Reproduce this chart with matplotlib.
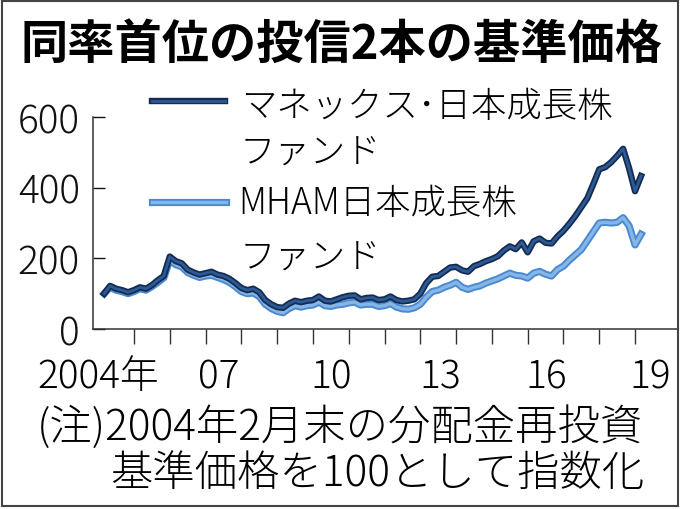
import matplotlib
matplotlib.use('Agg')
import matplotlib.pyplot as plt
import matplotlib.patheffects as pe
from matplotlib.lines import Line2D
from matplotlib.patches import Rectangle
import numpy as np

plt.rcParams['font.family'] = ['Noto Sans CJK JP', 'DejaVu Sans']
plt.rcParams['font.weight'] = 'light'

# 基準価格 (2004年2月末=100), 2か月ごと
monex = [100, 122, 114, 110, 104, 110, 118, 114, 124, 138,
         150, 205, 192, 186, 168, 160, 154, 158, 162, 154,
         150, 142, 130, 116, 110, 114, 104, 82, 70, 62,
         60, 72, 80, 76, 80, 82, 92, 80, 78, 84,
         90, 94, 95, 84, 88, 89, 82, 84, 92, 82,
         78, 80, 84, 100, 130, 148, 150, 162, 174, 176,
         166, 162, 178, 184, 192, 198, 206, 222, 234, 226,
         245, 217, 248, 256, 244, 242, 262, 278, 298, 320,
         345, 370, 410, 452, 458, 472, 490, 510, 455, 390,
         433]
mham = [100, 118, 110, 106, 100, 106, 114, 110, 120, 132,
        145, 195, 182, 176, 160, 152, 146, 150, 152, 146,
        140, 132, 120, 106, 100, 102, 92, 70, 58, 50,
        46, 58, 66, 62, 66, 68, 76, 66, 64, 68,
        70, 74, 76, 68, 70, 70, 64, 66, 72, 62,
        57, 56, 60, 70, 90, 106, 110, 118, 124, 132,
        118, 112, 118, 122, 130, 136, 142, 150, 158, 152,
        150, 144, 158, 163, 155, 150, 168, 178, 195, 210,
        225, 250, 275, 300, 302, 300, 302, 315, 292, 238,
        268]
t = 2004 + 2 / 12 + np.arange(len(monex)) / 6

names = ['マネックス･日本成長株', 'MHAM日本成長株']
year_ticks = list(range(2005, 2020))
year_labels = ['2004年', '07', '10', '13', '16', '19']
label_pos = [2004.0, 2007.37, 2010.5, 2013.55, 2016.51, 2019.41]

W, H = 680, 510
def fx(px):
    return px / W
def fy(py):
    return 1 - py / H

dark_fx = [pe.Stroke(linewidth=4.6, foreground='#142b52'), pe.Normal()]
light_fx = [pe.Stroke(linewidth=5.2, foreground='#4a8ad0'), pe.Normal()]
dark_c = '#2d5a94'
light_c = '#86b6e6'

fig = plt.figure(figsize=(6.8, 5.1), dpi=100)
ax = fig.add_axes([fx(93), fy(330), fx(678) - fx(93), fy(118) - fy(330)])

ax.plot(t, mham, color=light_c, lw=2.4, path_effects=light_fx)
ax.plot(t, monex, color=dark_c, lw=2.0, path_effects=dark_fx)

ax.set_xlim(2003.855, 2020.2)
ax.set_ylim(0, 600)
for s in ['top', 'right']:
    ax.spines[s].set_visible(False)
for s in ['left', 'bottom']:
    ax.spines[s].set_linewidth(1.1)
    ax.spines[s].set_color('#333333')

ax.set_yticks([0, 200, 400, 600])
ax.tick_params(axis='y', direction='in', length=8.6, width=1, pad=9.4,
               labelsize=28, colors='#111111')
ax.set_xticks(year_ticks)
ax.set_xticklabels([])
ax.tick_params(axis='x', which='major', direction='out', length=10.8, width=1,
               color='#333333')
ax.set_xticks(label_pos, minor=True)
ax.set_xticklabels(year_labels, minor=True)
ax.tick_params(axis='x', which='minor', length=0, pad=20, labelsize=28)

# 凡例
fig.add_artist(Line2D([fx(152), fx(225)], [fy(102)] * 2, transform=fig.transFigure,
                      color=dark_c, lw=2.0, path_effects=dark_fx))
fig.add_artist(Line2D([fx(152), fx(226)], [fy(203)] * 2, transform=fig.transFigure,
                      color=light_c, lw=2.4, path_effects=light_fx))
fig.text(fx(241), fy(107), names[0], va='center', fontsize=25.5)
fig.text(fx(240), fy(153), 'ファンド', va='center', fontsize=25.5)
fig.text(fx(238), fy(204), names[1], va='center', fontsize=25.5)
fig.text(fx(240), fy(258), 'ファンド', va='center', fontsize=25.5)

fig.text(fx(342), fy(45), '同率首位の投信2本の基準価格', ha='center', va='center',
         fontsize=34, fontweight='bold')
fig.text(fx(37), fy(428), '(注)2004年2月末の分配金再投資', va='center', fontsize=30.5)
fig.text(fx(110), fy(474), '基準価格を100として指数化', va='center', fontsize=30.5)

fig.add_artist(Rectangle((fx(2), fy(507)), fx(678) - fx(2), fy(2) - fy(507),
                         transform=fig.transFigure, fill=False, lw=1.5,
                         edgecolor='#444444'))

fig.savefig('out.png', dpi=100)
